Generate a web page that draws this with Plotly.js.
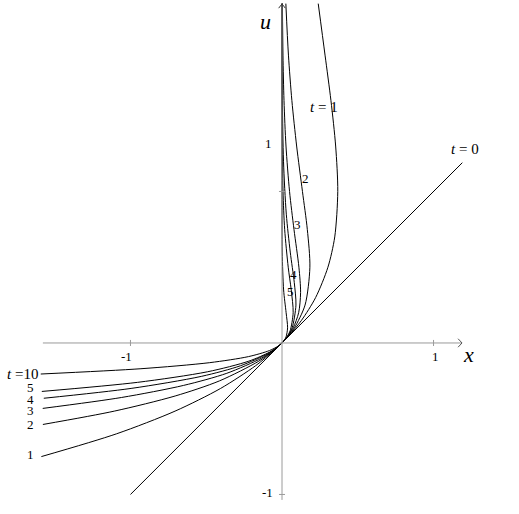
<!DOCTYPE html>
<html>
<head>
<meta charset="utf-8">
<script src="https://cdn.plot.ly/plotly-3.0.1.min.js"></script>
<style>html,body{margin:0;padding:0;background:#fff;}#chart{width:519px;height:514px;}</style>
</head>
<body>
<div id="chart"></div>
<script>
// Curve data: x position and u value along each curve
const t0_u = [-1.0, 1.19];
const t0_x = [-1.0, 1.19];

const t1_u = [-0.75, -0.6, -0.45, -0.3, -0.15, -0.05, 0, 0.05, 0.15, 0.3, 0.5, 0.7, 1.0, 1.3, 1.6, 1.9, 2.24];
const t1_x = [-1.588, -1.093, -0.706, -0.405, -0.174, -0.0526, 0, 0.0476, 0.129, 0.222, 0.303, 0.348, 0.368, 0.354, 0.323, 0.284, 0.239];

const t2_u = [-0.538, -0.45, -0.35, -0.25, -0.12, -0.05, 0, 0.05, 0.1, 0.25, 0.5, 0.75, 1.0, 1.3, 1.6, 1.9, 2.24];
const t2_x = [-1.578, -1.107, -0.705, -0.412, -0.153, -0.0553, 0, 0.0452, 0.082, 0.152, 0.184, 0.167, 0.135, 0.0966, 0.0652, 0.0425, 0.0254];

const t3_u = [-0.432, -0.36, -0.28, -0.2, -0.1, -0.05, 0, 0.05, 0.1, 0.2, 0.333, 0.5, 0.75, 1.0, 1.3, 1.6, 1.9, 2.24];
const t3_x = [-1.579, -1.06, -0.649, -0.364, -0.135, -0.0581, 0, 0.043, 0.0741, 0.11, 0.1226, 0.1116, 0.079, 0.0498, 0.0263, 0.0132, 0.0064, 0.0027];

const t4_u = [-0.365, -0.3, -0.22, -0.15, -0.07, -0.03, 0, 0.05, 0.1, 0.25, 0.4, 0.6, 0.85, 1.2, 1.6, 2.24];
const t4_x = [-1.572, -0.996, -0.53, -0.273, -0.0926, -0.0338, 0, 0.041, 0.067, 0.092, 0.0808, 0.0544, 0.0284, 0.0099, 0.0027, 0.0003];

const t5_u = [-0.32, -0.26, -0.19, -0.12, -0.06, -0.03, 0, 0.04, 0.08, 0.2, 0.35, 0.5, 0.75, 1.0, 1.4, 2.24];
const t5_x = [-1.585, -0.954, -0.491, -0.219, -0.081, -0.0349, 0, 0.0328, 0.0536, 0.0736, 0.0608, 0.041, 0.0176, 0.0067, 0.0013, 0];

const t10_u = [-0.205, -0.17, -0.13, -0.09, -0.05, -0.02, 0, 0.02, 0.04, 0.1, 0.2, 0.35, 0.6, 1.0, 2.24];
const t10_x = [-1.592, -0.931, -0.477, -0.221, -0.0824, -0.0244, 0, 0.0164, 0.0268, 0.0368, 0.0271, 0.0106, 0.0015, 0.00005, 0];

const curves = [
  {x: t0_x, u: t0_u},
  {x: t1_x, u: t1_u},
  {x: t2_x, u: t2_u},
  {x: t3_x, u: t3_u},
  {x: t4_x, u: t4_u},
  {x: t5_x, u: t5_u},
  {x: t10_x, u: t10_u}
];

// Labels
const leftLabels = ["5", "4", "3", "2", "1"];
const leftLabelU = [-0.297, -0.370, -0.449, -0.535, -0.739];
const innerLabels = ["1", "2", "3", "4", "5"];
const innerLabelX = [-0.086, 0.158, 0.099, 0.073, 0.059];
const innerLabelU = [1.32, 1.089, 0.779, 0.449, 0.343];

const serif = "Liberation Serif, Times New Roman, serif";
const axisColor = "#9a9a9a";

const traces = curves.map(c => ({
  type: "scatter", mode: "lines", x: c.x, y: c.u,
  line: {color: "#000", width: 1, shape: "spline", smoothing: 0.8},
  hoverinfo: "skip", showlegend: false
}));

const shapes = [
  // x axis
  {type: "line", xref: "x", yref: "y", x0: -1.578, y0: 0, x1: 1.188, y1: 0, line: {color: axisColor, width: 1}},
  {type: "path", xref: "x", yref: "y", path: "M 1.162,0.028 L 1.188,0 L 1.162,-0.028", line: {color: "#555", width: 1}},
  // y axis
  {type: "line", xref: "x", yref: "y", x0: 0, y0: -1.036, x1: 0, y1: 2.238, line: {color: axisColor, width: 1}},
  {type: "path", xref: "x", yref: "y", path: "M -0.022,2.21 L 0,2.238 L 0.022,2.21", line: {color: "#333", width: 1}},
  // ticks
  {type: "line", xref: "x", yref: "y", x0: -1, y0: -0.02, x1: -1, y1: 0.02, line: {color: axisColor, width: 1}},
  {type: "line", xref: "x", yref: "y", x0: 1, y0: -0.02, x1: 1, y1: 0.02, line: {color: axisColor, width: 1}},
  {type: "line", xref: "x", yref: "y", x0: -0.02, y0: 1, x1: 0.02, y1: 1, line: {color: axisColor, width: 1}},
  {type: "line", xref: "x", yref: "y", x0: -0.02, y0: -1, x1: 0.02, y1: -1, line: {color: axisColor, width: 1}}
];

function ann(x, y, text, size, xanchor) {
  return {x: x, y: y, xref: "x", yref: "y", text: text, showarrow: false,
          xanchor: xanchor || "center", yanchor: "middle", borderpad: 0,
          font: {family: serif, size: size || 14, color: "#000"}};
}

const annotations = [
  ann(-0.112, 2.125, "<i>u</i>", 22),
  ann(1.228, -0.079, "<i>x</i>", 22),
  ann(0.277, 1.558, "<i>t</i> = 1", 15),
  ann(1.208, 1.28, "<i>t</i> = 0", 15),
  ann(-1.023, -0.092, "-1", 13),
  ann(1.01, -0.086, "1", 13),
  ann(-0.099, -0.99, "-1", 13),
  ann(-1.606, -0.205, "<i>t</i> =10", 15, "right")
];
innerLabels.forEach((s, i) => annotations.push(ann(innerLabelX[i], innerLabelU[i], s, 13)));
leftLabels.forEach((s, i) => annotations.push(ann(-1.632, leftLabelU[i], s, 13, "right")));

const layout = {
  width: 519, height: 514,
  margin: {l: 0, r: 0, t: 0, b: 0},
  paper_bgcolor: "#fff", plot_bgcolor: "#fff",
  xaxis: {range: [-1.861, 1.564], visible: false, fixedrange: true},
  yaxis: {range: [-1.129, 2.264], visible: false, fixedrange: true},
  shapes: shapes,
  annotations: annotations,
  showlegend: false
};

Plotly.newPlot("chart", traces, layout, {staticPlot: true, displayModeBar: false});
</script>
</body>
</html>
